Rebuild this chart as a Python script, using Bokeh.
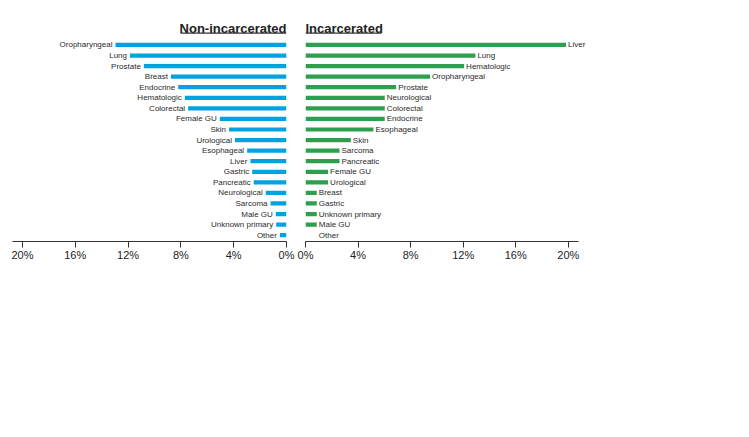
from bokeh.plotting import figure
from bokeh.layouts import row
from bokeh.models import Range1d, FixedTicker, PrintfTickFormatter, ColumnDataSource
from bokeh.core.properties import value
from bokeh.embed import file_html
from bokeh.resources import INLINE

# ---------------- data ----------------
non_cats = ["Oropharyngeal", "Lung", "Prostate", "Breast", "Endocrine", "Hematologic",
            "Colorectal", "Female GU", "Skin", "Urological", "Esophageal", "Liver",
            "Gastric", "Pancreatic", "Neurological", "Sarcoma", "Male GU",
            "Unknown primary", "Other"]
non_vals = [12.95, 11.85, 10.8, 8.75, 8.2, 7.7, 7.45, 5.05, 4.35, 3.9, 2.98, 2.73,
            2.6, 2.48, 1.57, 1.21, 0.81, 0.78, 0.5]

inc_cats = ["Liver", "Lung", "Hematologic", "Oropharyngeal", "Prostate", "Neurological",
            "Colorectal", "Endocrine", "Esophageal", "Skin", "Sarcoma", "Pancreatic",
            "Female GU", "Urological", "Breast", "Gastric", "Unknown primary",
            "Male GU", "Other"]
inc_vals = [19.83, 12.93, 12.07, 9.48, 6.90, 6.03, 6.03, 6.03, 5.17, 3.45, 2.59, 2.59,
            1.72, 1.72, 0.86, 0.86, 0.86, 0.86, 0.0]

tick_values = [0, 4, 8, 12, 16, 20]
titles = ["Non-incarcerated", "Incarcerated"]

FONT = "Liberation Sans"
BLUE = "#00a3e0"
GREEN = "#2e9e4f"
AXIS_MAX = 20.75
N = len(non_cats)


def make_panel(cats, vals, color, title, left_side):
    ys = [N - 1 - i for i in range(N)]
    min_pos = min(v for v in vals if v > 0)
    lab_x = [max(v, min_pos) for v in vals]
    src = ColumnDataSource(dict(y=ys, v=vals, cat=cats, lx=lab_x))

    if left_side:
        xr = Range1d(AXIS_MAX, 0)
        fw = 274
        mbl, mbr = 12, 10
    else:
        xr = Range1d(0, 22.6)
        fw = 297
        mbl, mbr = 9, 4

    p = figure(x_range=xr, y_range=Range1d(-0.6, 20.6),
               frame_width=fw, frame_height=224,
               output_backend="svg", toolbar_location=None,
               min_border_left=mbl, min_border_right=mbr,
               min_border_top=17, min_border_bottom=28)
    p.outline_line_color = None
    p.grid.visible = False
    p.yaxis.visible = False
    p.background_fill_color = "white"
    p.border_fill_color = "white"

    p.hbar(y="y", left=0, right="v", height=0.4, fill_color=color,
           line_color=None, source=src)

    p.text(x="lx", y="y", text="cat", source=src,
           x_offset=-3 if left_side else 2,
           text_align="right" if left_side else "left",
           text_baseline="middle", text_font=value(FONT),
           text_font_size="8px", text_color="#2b2b2b")

    # title with underline
    title_y = N - 1 + 1.57
    p.text(x=[0], y=[title_y], text=[title],
           text_align="right" if left_side else "left",
           text_baseline="middle", text_font=value(FONT),
           text_font_size="13px", text_font_style="bold", text_color="#222222")
    ul_px = 106 if left_side else 76
    ppu = fw / (xr.start - xr.end if left_side else xr.end - xr.start)
    ul_len = ul_px / ppu
    p.segment(x0=[0], x1=[ul_len], y0=[title_y - 0.45], y1=[title_y - 0.45],
              line_color="#333333", line_width=1.3)

    ax = p.xaxis[0]
    ax.ticker = FixedTicker(ticks=tick_values)
    ax.formatter = PrintfTickFormatter(format="%d%%")
    ax.bounds = (0, AXIS_MAX)
    ax.axis_line_color = "#333333"
    ax.major_tick_line_color = "#333333"
    ax.major_tick_in = 0
    ax.major_tick_out = 6
    ax.minor_tick_line_color = None
    ax.major_label_text_font = FONT
    ax.major_label_text_font_size = "11px"
    ax.major_label_text_color = "#222222"
    ax.major_label_standoff = 1
    return p


p1 = make_panel(non_cats, non_vals, BLUE, titles[0], True)
p2 = make_panel(inc_cats, inc_vals, GREEN, titles[1], False)

layout = row(p1, p2)
open("out.html", "w").write(file_html(layout, INLINE))
